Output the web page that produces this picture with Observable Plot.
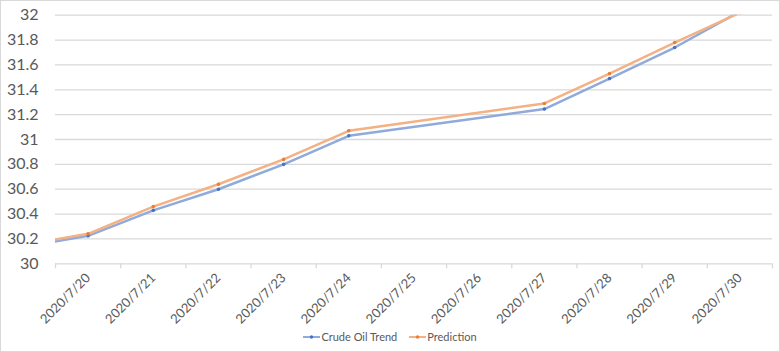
<!DOCTYPE html>
<html>
<head>
<meta charset="utf-8">
<script src="https://cdn.jsdelivr.net/npm/d3@7"></script>
<script src="https://cdn.jsdelivr.net/npm/@observablehq/plot@0.6"></script>
<style>
  html, body { margin: 0; padding: 0; background: #fff; }
  #chart { width: 778px; height: 350px; border: 1px solid #d9d9d9; font-family: Lato, "Open Sans", sans-serif; color: #595959; background: #fff; }
  #legend { height: 27px; display: flex; justify-content: center; align-items: center; font-size: 11px; gap: 12px; }
  .item { display: flex; align-items: center; gap: 1px; }
</style>
</head>
<body>
<div id="chart"></div>
<script>
// Trading dates (weekends 7/25, 7/26 missing); first point lies left of the visible axis
const dates = ["2020-07-17", "2020-07-20", "2020-07-21", "2020-07-22", "2020-07-23", "2020-07-24", "2020-07-27", "2020-07-28", "2020-07-29", "2020-07-30"];
const crudeOilTrend = [29.956, 30.225, 30.43, 30.60, 30.80, 31.03, 31.245, 31.49, 31.74, 32.03];
const prediction = [29.972, 30.241, 30.46, 30.64, 30.84, 31.07, 31.29, 31.53, 31.78, 32.02];

// Category axis labels
const xLabels = ["2020/7/20", "2020/7/21", "2020/7/22", "2020/7/23", "2020/7/24", "2020/7/25", "2020/7/26", "2020/7/27", "2020/7/28", "2020/7/29", "2020/7/30"];
const yTicks = [30, 30.2, 30.4, 30.6, 30.8, 31, 31.2, 31.4, 31.6, 31.8, 32];

const seriesNames = ["Crude Oil Trend", "Prediction"];
const lineColors = ["#8FAADC", "#F4B183"];
const markerColors = ["#4472C4", "#ED7D31"];

const HALF_DAY = 12 * 3600 * 1000;
const labelDate = s => { const [y, m, d] = s.split("/").map(Number); return new Date(Date.UTC(y, m - 1, d)); };
const labelDates = xLabels.map(labelDate);
const boundaries = [...labelDates.map(d => new Date(+d - HALF_DAY)), new Date(+labelDates[labelDates.length - 1] + HALF_DAY)];

const rows = [];
[crudeOilTrend, prediction].forEach((vals, si) => {
  dates.forEach((d, i) => rows.push({ series: seriesNames[si], date: new Date(d), value: vals[i] }));
});
const bySeries = name => rows.filter(r => r.series === name);

const plot = Plot.plot({
  width: 778,
  height: 322,
  marginLeft: 54,
  marginRight: 7,
  marginTop: 13.7,
  marginBottom: 59.7,
  style: { fontFamily: "Lato, 'Open Sans', sans-serif", color: "#595959", background: "#fff", overflow: "visible" },
  x: { type: "utc", domain: [boundaries[0], boundaries[boundaries.length - 1]] },
  y: { domain: [30, 32] },
  marks: [
    Plot.ruleY(yTicks, { stroke: "#d9d9d9", strokeWidth: 1.3 }),
    Plot.axisY({ ticks: yTicks, tickSize: 0, tickPadding: 17, fontSize: 16, fill: "#595959", label: null, tickFormat: d => String(d) }),
    Plot.axisX({ ticks: boundaries, tickSize: 5, tickFormat: () => "", stroke: "#d9d9d9", strokeWidth: 1.3, label: null }),
    Plot.text(labelDates, { x: d => d, text: (d, i) => xLabels[i], frameAnchor: "bottom", rotate: -45, textAnchor: "end", lineAnchor: "middle", dy: 12, fontSize: 13, fill: "#595959" }),
    ...seriesNames.map((name, si) => [
      Plot.line(bySeries(name), { x: "date", y: "value", stroke: lineColors[si], strokeWidth: 2.5, clip: true }),
      Plot.dot(bySeries(name), { x: "date", y: "value", r: 1.8, fill: markerColors[si], stroke: "none", clip: true })
    ]).flat()
  ]
});

const chart = document.getElementById("chart");
chart.appendChild(plot);

const legend = document.createElement("div");
legend.id = "legend";
seriesNames.forEach((name, si) => {
  const item = document.createElement("div");
  item.className = "item";
  item.innerHTML = `<svg width="17" height="8"><line x1="0" y1="4" x2="17" y2="4" stroke="${lineColors[si]}" stroke-width="2"/><circle cx="8.5" cy="4" r="1.7" fill="${markerColors[si]}"/></svg><span>${name}</span>`;
  legend.appendChild(item);
});
chart.appendChild(legend);
</script>
</body>
</html>
